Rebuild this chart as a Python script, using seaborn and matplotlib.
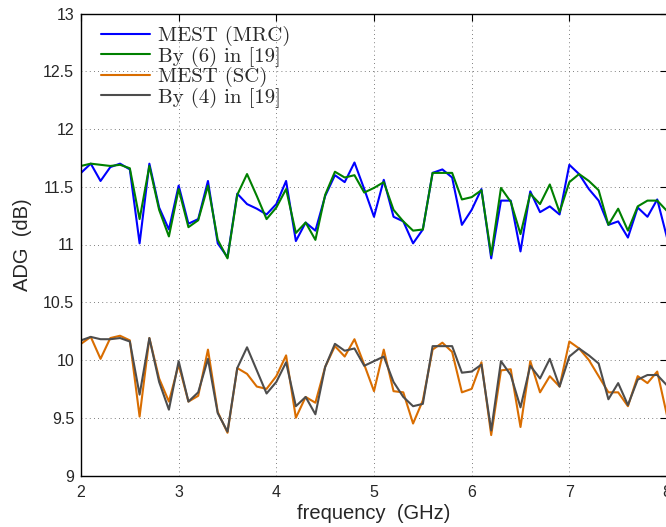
import numpy as np
import pandas as pd
import matplotlib
matplotlib.use('Agg')
import matplotlib.pyplot as plt
import seaborn as sns

# frequency grid (GHz), 0.1 GHz steps from 2 to 8
freq = [round(2.0 + 0.1 * k, 1) for k in range(61)]

mest_mrc = [11.62, 11.70, 11.55, 11.67, 11.70, 11.65, 11.01, 11.70, 11.32, 11.13,
            11.51, 11.18, 11.22, 11.55, 11.01, 10.89, 11.44, 11.35, 11.31, 11.26,
            11.35, 11.55, 11.03, 11.19, 11.12, 11.42, 11.60, 11.54, 11.71, 11.48,
            11.24, 11.56, 11.24, 11.20, 11.01, 11.13, 11.62, 11.65, 11.58, 11.17,
            11.30, 11.48, 10.88, 11.38, 11.38, 10.94, 11.46, 11.28, 11.33, 11.26,
            11.69, 11.61, 11.48, 11.38, 11.17, 11.20, 11.06, 11.32, 11.24, 11.39,
            11.06]

by6 = [11.68, 11.70, 11.69, 11.68, 11.69, 11.66, 11.22, 11.68, 11.30, 11.07,
       11.48, 11.15, 11.21, 11.51, 11.04, 10.88, 11.43, 11.61, 11.42, 11.22,
       11.32, 11.48, 11.10, 11.19, 11.04, 11.43, 11.63, 11.58, 11.60, 11.45,
       11.49, 11.54, 11.30, 11.20, 11.12, 11.13, 11.62, 11.62, 11.62, 11.39,
       11.41, 11.47, 10.91, 11.49, 11.37, 11.09, 11.44, 11.35, 11.52, 11.28,
       11.54, 11.61, 11.55, 11.47, 11.17, 11.31, 11.12, 11.33, 11.38, 11.38,
       11.29]

mest_sc = [10.14, 10.20, 10.01, 10.19, 10.21, 10.17, 9.51, 10.19, 9.84, 9.64,
           9.96, 9.64, 9.69, 10.09, 9.55, 9.37, 9.93, 9.88, 9.77, 9.75,
           9.86, 10.04, 9.50, 9.68, 9.63, 9.94, 10.12, 10.03, 10.18, 9.96,
           9.73, 10.09, 9.73, 9.72, 9.45, 9.65, 10.09, 10.15, 10.07, 9.72,
           9.75, 9.98, 9.35, 9.91, 9.92, 9.42, 9.99, 9.72, 9.86, 9.77,
           10.16, 10.10, 10.00, 9.86, 9.72, 9.72, 9.60, 9.86, 9.80, 9.90,
           9.52]

by4 = [10.17, 10.20, 10.18, 10.18, 10.19, 10.16, 9.70, 10.19, 9.81, 9.57,
       9.99, 9.64, 9.72, 10.01, 9.54, 9.38, 9.93, 10.11, 9.91, 9.71,
       9.81, 9.98, 9.60, 9.68, 9.53, 9.94, 10.14, 10.08, 10.10, 9.95,
       9.99, 10.03, 9.81, 9.68, 9.60, 9.62, 10.12, 10.12, 10.12, 9.89,
       9.90, 9.96, 9.39, 9.99, 9.87, 9.59, 9.95, 9.84, 10.01, 9.77,
       10.03, 10.10, 10.04, 9.97, 9.66, 9.80, 9.61, 9.83, 9.87, 9.87,
       9.78]

labels = ['MEST (MRC)', 'By (6) in [19]', 'MEST (SC)', 'By (4) in [19]']
colors = ['#0000ff', '#008000', '#d96d00', '#4d4d4d']

df = pd.DataFrame({'freq': freq * 4,
                   'adg': mest_mrc + by6 + mest_sc + by4,
                   'series': sum([[lab] * len(freq) for lab in labels], [])})

sns.set_style('white')
plt.rcParams['font.family'] = ['Liberation Sans', 'DejaVu Sans']
plt.rcParams['xtick.direction'] = 'in'
plt.rcParams['ytick.direction'] = 'in'

fig = plt.figure(figsize=(6.66, 5.27), dpi=100)
ax = fig.add_axes([81 / 666, 1 - 475.5 / 527, 586 / 666, 462 / 527])

sns.lineplot(data=df, x='freq', y='adg', hue='series', hue_order=labels,
             palette=colors, linewidth=1.5, ax=ax)

ax.set_xlim(2, 8)
ax.set_ylim(9, 13)
ax.set_xticks(range(2, 9))
ax.set_yticks(np.arange(9, 13.01, 0.5))
ax.set_yticklabels(['9', '9.5', '10', '10.5', '11', '11.5', '12', '12.5', '13'])
ax.grid(True, color='#555555', linestyle=(0, (1, 4)), linewidth=0.6)
ax.tick_params(labelsize=11.5, length=5, width=0.8, color='black', top=True, right=True)
ax.tick_params(axis='x', pad=7)
ax.tick_params(axis='y', pad=5)
for s in ax.spines.values():
    s.set_color('black')
    s.set_linewidth(1.0)

ax.set_xlabel('frequency  (GHz)', fontsize=14.5, labelpad=3)
ax.set_ylabel('ADG  (dB)', fontsize=14.5, labelpad=8)

leg = ax.legend(loc='upper left', frameon=False, prop={'family': 'cmr10', 'size': 15},
                handlelength=2.35, handletextpad=0.4, labelspacing=0.02,
                borderaxespad=0.2, bbox_to_anchor=(0.013, 1.0))
for t in leg.get_texts():
    t.set_color('#2a2a2a')

fig.savefig('out.png', dpi=100)
